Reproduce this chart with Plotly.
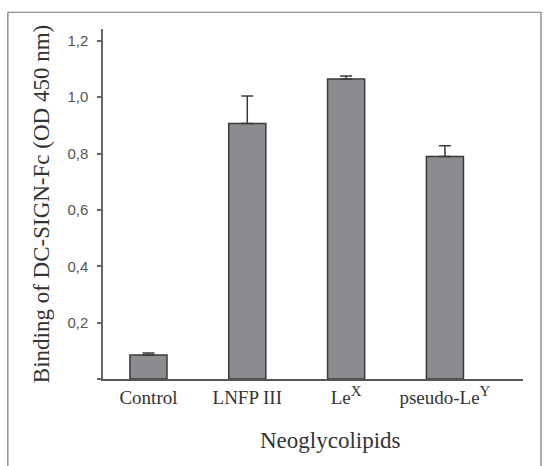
import plotly.graph_objects as go

categories = ["Control", "LNFP III",
              "Le<sup><span style='font-size:15px'>X</span></sup>",
              "pseudo-Le<sup><span style='font-size:15px'>Y</span></sup>"]
values = [0.085, 0.907, 1.065, 0.790]
errors = [0.007, 0.097, 0.010, 0.038]
ytick_vals = [0.2, 0.4, 0.6, 0.8, 1.0, 1.2]
ytick_text = ["0,2", "0,4", "0,6", "0,8", "1,0", "1,2"]

serif = "Liberation Serif, Times New Roman, serif"
sans = "Liberation Sans, Arial, sans-serif"

fig = go.Figure()
fig.add_trace(go.Bar(
    x=categories,
    y=values,
    marker=dict(color="#8c8c90", line=dict(color="#3a3a3a", width=1.5)),
    error_y=dict(type="data", array=errors, arrayminus=[0] * len(errors),
                 symmetric=False, color="#3a3a3a", thickness=1.5, width=6),
    width=0.375,
))

fig.update_layout(
    width=545, height=466,
    margin=dict(l=103, r=22, t=29, b=87, autoexpand=False),
    paper_bgcolor="white", plot_bgcolor="white",
    showlegend=False,
    xaxis=dict(
        automargin=False,
        range=[-0.46, 3.79],
        showline=True, linecolor="#555555", linewidth=1.5,
        ticks="", showgrid=False, zeroline=False,
        tickfont=dict(family=serif, size=19, color="#333333"),
    ),
    yaxis=dict(
        automargin=False,
        range=[0, 1.242],
        showline=True, linecolor="#666666", linewidth=1.5,
        ticks="outside", ticklen=4, tickcolor="#666666", tickwidth=1.5,
        tickvals=[0] + ytick_vals, ticktext=[""] + ytick_text,
        showgrid=False, zeroline=False,
        ticklabelstandoff=6,
        tickfont=dict(family=sans, size=15, color="#555555"),
        title=dict(text="Binding of DC-SIGN-Fc (OD 450 nm)", font=dict(family=serif, size=23, color="#333333"), standoff=11),
    ),
    annotations=[dict(text="Neoglycolipids", xref="paper", yref="paper",
                      x=0.541, y=-0.175, xanchor="center", yanchor="middle",
                      showarrow=False, font=dict(family=serif, size=23, color="#333333"))],
    shapes=[dict(type="rect", xref="paper", yref="paper",
                 x0=-0.2265, x1=1.0428, y0=-0.27, y1=1.0478,
                 line=dict(color="#777777", width=1.2), fillcolor="rgba(0,0,0,0)", layer="below")],
)

fig.write_html("out.html", config={"displayModeBar": False},
               post_script="document.body.style.margin='0';document.body.style.overflow='hidden';")
